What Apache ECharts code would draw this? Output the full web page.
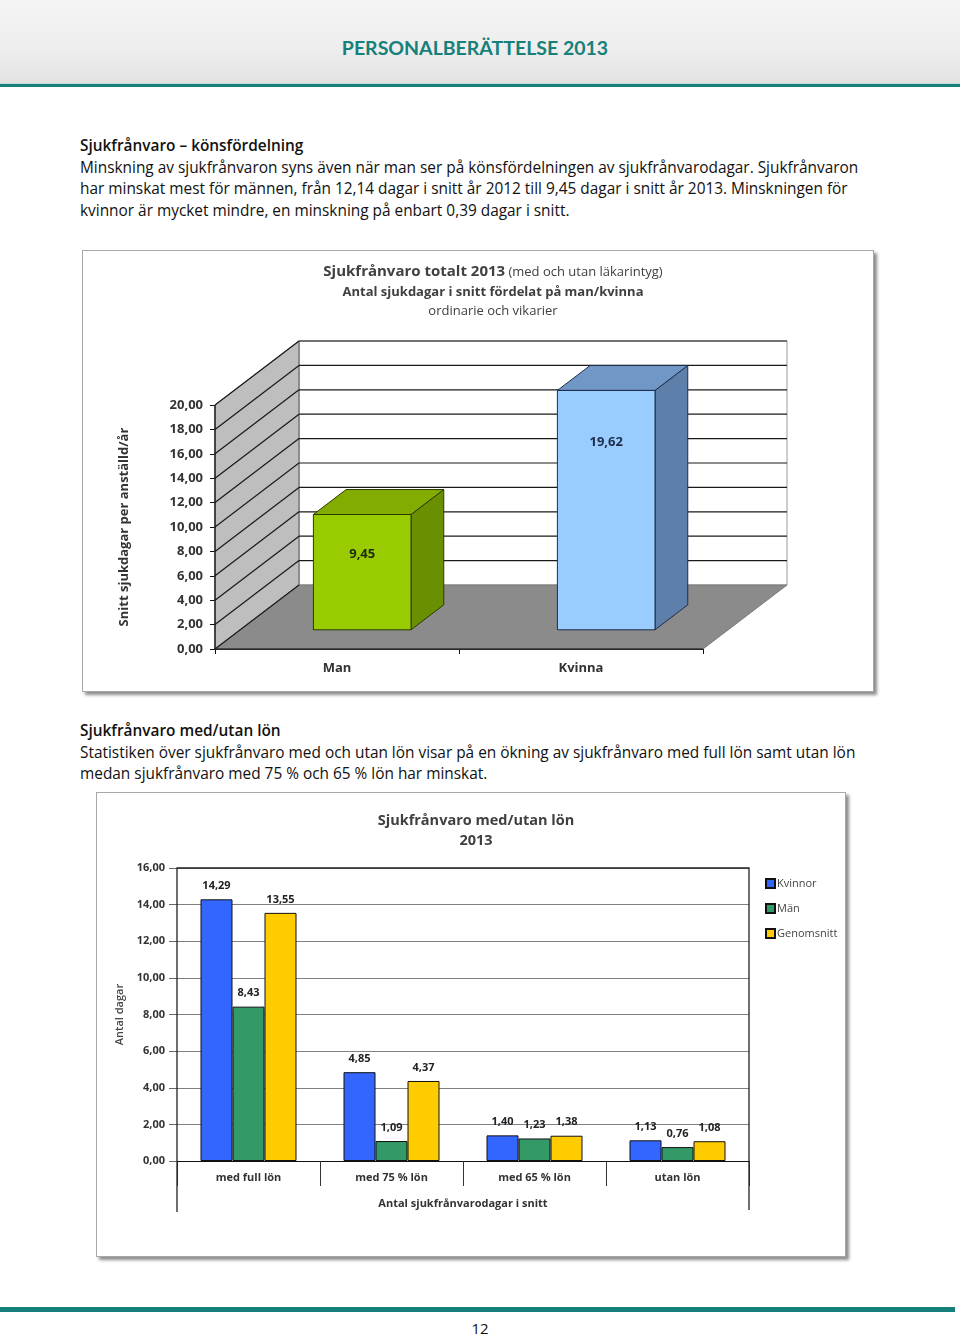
<!DOCTYPE html>
<html>
<head>
<meta charset="utf-8">
<script src="https://cdn.jsdelivr.net/npm/echarts/dist/echarts.min.js"></script>
<style>
  html, body { margin: 0; padding: 0; background: #fff; }
  #page { position: relative; width: 960px; height: 1338px; overflow: hidden; font-family: "Open Sans", Lato, sans-serif; color: #111; }
  .hdr { position: absolute; left: 0; top: 0; width: 960px; height: 84px; background: linear-gradient(180deg, #f5f5f5 0%, #ededed 60%, #e2e2e2 100%); }
  .hdr-line1 { position: absolute; left: 0; top: 83px; width: 960px; height: 1px; background: #bfdcda; }
  .hdr-line2 { position: absolute; left: 0; top: 84px; width: 960px; height: 3px; background: #1c807a; }
  .hdr-title { position: absolute; left: 0; width: 960px; top: 36px; text-align: center; font-family: Lato, sans-serif; font-weight: bold; font-size: 19.5px; color: #16807a; margin-left: -5px; }
  .para { position: absolute; left: 80px; font-size: 15.4px; line-height: 21.5px; white-space: nowrap; color: #111; }
  .para b { font-weight: 600; }
  .frame { position: absolute; background: #fff; border: 1px solid #a8a8a8; box-shadow: 3px 3px 3px rgba(0,0,0,0.45); }
  .foot { position: absolute; left: 0; top: 1307px; width: 955px; height: 5px; background: #15807b; }
  .pnum { position: absolute; left: 0; width: 960px; top: 1318px; text-align: center; font-size: 15px; color: #111; }
  #chart { position: absolute; left: 0; top: 0; width: 960px; height: 1338px; }
</style>
</head>
<body>
<div id="page">
  <div class="hdr"></div>
  <div class="hdr-line1"></div>
  <div class="hdr-line2"></div>
  <div class="hdr-title">PERSONALBERÄTTELSE 2013</div>

  <div class="para" style="top:135px;">
    <b>Sjukfrånvaro – könsfördelning</b><br>
    Minskning av sjukfrånvaron syns även när man ser på könsfördelningen av sjukfrånvarodagar. Sjukfrånvaron<br>
    har minskat mest för männen, från 12,14 dagar i snitt år 2012 till 9,45 dagar i snitt år 2013. Minskningen för<br>
    kvinnor är mycket mindre, en minskning på enbart 0,39 dagar i snitt.
  </div>

  <div class="frame" style="left:82px; top:250px; width:790px; height:440px;"></div>

  <div class="para" style="top:720px;">
    <b>Sjukfrånvaro med/utan lön</b><br>
    Statistiken över sjukfrånvaro med och utan lön visar på en ökning av sjukfrånvaro med full lön samt utan lön<br>
    medan sjukfrånvaro med 75 % och 65 % lön har minskat.
  </div>

  <div class="frame" style="left:96px; top:792px; width:748px; height:463px;"></div>

  <div class="foot"></div>
  <div class="pnum">12</div>

  <div id="chart"></div>
</div>

<script>
// ---------- DATA ----------
const genderCats = ['Man', 'Kvinna'];
const genderValues = [9.45, 19.62];
const genderYMax = 20;
const genderYStep = 2;

const payCats = ['med full lön', 'med 75 % lön', 'med 65 % lön', 'utan lön'];
const seriesNames = ['Kvinnor', 'Män', 'Genomsnitt'];
const kvinnorValues = [14.29, 4.85, 1.40, 1.13];
const manValues = [8.43, 1.09, 1.23, 0.76];
const genomsnittValues = [13.55, 4.37, 1.38, 1.08];
const payYMax = 16;
const payYStep = 2;

// ---------- STYLE ----------
const FONT = 'Open Sans';
const DEPTH_X = 84, DEPTH_Y = -64;
const barStyles3d = [
  { front: '#99cc00', top: '#82ad00', side: '#6a8f00', edge: '#2b3a00', label: '#1d2a10', labelDy: 40 },
  { front: '#99ccff', top: '#7097c6', side: '#5f7fab', edge: '#1e2c4a', label: '#1e2c4a', labelDy: 52 }
];
const payColors = ['#3366ff', '#339966', '#ffcc00'];
const fmt = v => Number(v).toFixed(2).replace('.', ',');

const chart = echarts.init(document.getElementById('chart'), null, { renderer: 'canvas' });

function renderWalls(params, api) {
  const cs = params.coordSys;
  const x0 = cs.x, x1 = cs.x + cs.width, yt = cs.y, yb = cs.y + cs.height;
  const dx = DEPTH_X, dy = DEPTH_Y;
  const children = [];
  children.push({ type: 'rect', shape: { x: x0 + dx, y: yt + dy, width: cs.width, height: cs.height },
    style: { fill: '#ffffff', stroke: '#9a9a9a', lineWidth: 1 } });
  children.push({ type: 'polygon', shape: { points: [[x0, yb], [x0, yt], [x0 + dx, yt + dy], [x0 + dx, yb + dy]] },
    style: { fill: '#bebebe', stroke: '#555', lineWidth: 1 } });
  children.push({ type: 'polygon', shape: { points: [[x0, yb], [x1, yb], [x1 + dx, yb + dy], [x0 + dx, yb + dy]] },
    style: { fill: '#8b8b8b', stroke: '#7a7a7a', lineWidth: 1 } });
  for (let v = 0; v <= genderYMax + 1e-9; v += genderYStep) {
    const y = api.coord([0, v])[1];
    children.push({ type: 'line', shape: { x1: x0, y1: y, x2: x0 + dx, y2: y + dy }, style: { stroke: '#1a1a1a', lineWidth: 1.2 } });
    if (v > 0) {
      children.push({ type: 'line', shape: { x1: x0 + dx, y1: y + dy, x2: x1 + dx, y2: y + dy }, style: { stroke: '#1a1a1a', lineWidth: 1.2 } });
    }
  }
  children.push({ type: 'line', shape: { x1: x0, y1: yt, x2: x0, y2: yb }, style: { stroke: '#111', lineWidth: 1.2 } });
  children.push({ type: 'line', shape: { x1: x0, y1: yb, x2: x1, y2: yb }, style: { stroke: '#111', lineWidth: 1.2 } });
  return { type: 'group', children };
}

function render3DBar(params, api) {
  const idx = api.value(0), val = api.value(1);
  const top = api.coord([idx, val]);
  const base = api.coord([idx, 0]);
  const band = api.size([1, 0])[0];
  const w = band * 0.4;
  const fx = DEPTH_X * 0.3, fy = DEPTH_Y * 0.3;
  const bx = DEPTH_X * 0.39, by = DEPTH_Y * 0.39;
  const x0 = top[0] - w / 2 + fx, x1 = x0 + w;
  const yT = top[1] + fy, yB = base[1] + fy;
  const c = barStyles3d[params.dataIndex];
  return { type: 'group', children: [
    { type: 'polygon', shape: { points: [[x1, yB], [x1, yT], [x1 + bx, yT + by], [x1 + bx, yB + by]] }, style: { fill: c.side, stroke: c.edge, lineWidth: 1 } },
    { type: 'polygon', shape: { points: [[x0, yT], [x1, yT], [x1 + bx, yT + by], [x0 + bx, yT + by]] }, style: { fill: c.top, stroke: c.edge, lineWidth: 1 } },
    { type: 'rect', shape: { x: x0, y: yT, width: w, height: yB - yT }, style: { fill: c.front, stroke: c.edge, lineWidth: 1 } },
    { type: 'text', x: (x0 + x1) / 2, y: yT + c.labelDy, style: { text: fmt(val), align: 'center', verticalAlign: 'middle', font: 'bold 13px "' + FONT + '"', fill: c.label } }
  ] };
}

const titleColor = '#404040';
const option = {
  animation: false,
  textStyle: { fontFamily: FONT },
  grid: [
    { left: 215, top: 405, width: 488, height: 244 },
    { left: 177, top: 868, width: 572, height: 293 }
  ],
  xAxis: [
    { gridIndex: 0, type: 'category', data: genderCats,
      axisLine: { show: true, lineStyle: { color: '#111', width: 1.2 } },
      axisTick: { show: true, length: 5, lineStyle: { color: '#111' } },
      axisLabel: { fontFamily: FONT, fontWeight: 'bold', fontSize: 13, color: '#333', margin: 13 },
      splitLine: { show: false } },
    { gridIndex: 1, type: 'category', data: payCats,
      name: 'Antal sjukfrånvarodagar i snitt', nameLocation: 'middle', nameGap: 37,
      nameTextStyle: { fontFamily: FONT, fontWeight: 'bold', fontSize: 11, color: '#333' },
      axisLine: { show: true, lineStyle: { color: '#111', width: 1.2 } },
      axisTick: { show: true, length: 25, lineStyle: { color: '#333' } },
      axisLabel: { fontFamily: FONT, fontWeight: 'bold', fontSize: 11, color: '#333', margin: 11 },
      splitLine: { show: false } }
  ],
  yAxis: [
    { gridIndex: 0, type: 'value', min: 0, max: genderYMax, interval: genderYStep,
      name: 'Snitt sjukdagar per anställd/år', nameLocation: 'middle', nameRotate: 90, nameGap: 84,
      nameTextStyle: { fontFamily: FONT, fontWeight: 'bold', fontSize: 13, color: '#333' },
      axisLine: { show: true, lineStyle: { color: '#111', width: 1.2 } },
      axisTick: { show: true, length: 5, lineStyle: { color: '#111' } },
      axisLabel: { fontFamily: FONT, fontWeight: 'bold', fontSize: 13, color: '#333', margin: 12, formatter: fmt },
      splitLine: { show: false } },
    { gridIndex: 1, type: 'value', min: 0, max: payYMax, interval: payYStep,
      name: 'Antal dagar', nameLocation: 'middle', nameRotate: 90, nameGap: 52,
      nameTextStyle: { fontFamily: FONT, fontWeight: 600, fontSize: 11, color: '#444' },
      axisLine: { show: false },
      axisTick: { show: true, length: 8, lineStyle: { color: '#666' } },
      axisLabel: { fontFamily: FONT, fontWeight: 'bold', fontSize: 11, color: '#333', margin: 12, formatter: fmt },
      splitLine: { show: true, lineStyle: { color: '#808080', width: 1 } } }
  ],
  legend: {
    data: seriesNames, orient: 'vertical', left: 760, top: 871,
    itemWidth: 9, itemHeight: 9, itemGap: 10, icon: 'rect',
    textStyle: { fontFamily: FONT, fontSize: 11, color: '#444', padding: [0, 0, 0, -3], lineHeight: 15 }
  },
  graphic: [
    { type: 'text', x: 493, y: 272, style: { text: '{a|Sjukfrånvaro totalt 2013} {b|(med och utan läkarintyg)}', align: 'center', verticalAlign: 'middle',
        rich: { a: { fontFamily: FONT, fontSize: 15, fontWeight: 'bold', fill: titleColor }, b: { fontFamily: FONT, fontSize: 13, fill: titleColor } } } },
    { type: 'text', x: 493, y: 292, style: { text: 'Antal sjukdagar i snitt fördelat på man/kvinna', align: 'center', verticalAlign: 'middle', font: 'bold 13px "' + FONT + '"', fill: titleColor } },
    { type: 'text', x: 493, y: 311, style: { text: 'ordinarie och vikarier', align: 'center', verticalAlign: 'middle', font: '13px "' + FONT + '"', fill: titleColor } },
    { type: 'text', x: 476, y: 821, style: { text: 'Sjukfrånvaro med/utan lön', align: 'center', verticalAlign: 'middle', font: 'bold 14.5px "' + FONT + '"', fill: titleColor } },
    { type: 'text', x: 476, y: 841, style: { text: '2013', align: 'center', verticalAlign: 'middle', font: 'bold 14.5px "' + FONT + '"', fill: titleColor } },
    { type: 'polyline', z: 10, shape: { points: [[177, 1212], [177, 868], [749, 868], [749, 1210]] }, style: { stroke: '#222', lineWidth: 1.3, fill: null } }
  ],
  series: [
    { type: 'custom', name: 'walls', xAxisIndex: 0, yAxisIndex: 0, z: 1, silent: true, renderItem: renderWalls, data: [[0, 0]] },
    { type: 'custom', name: 'bars3d', xAxisIndex: 0, yAxisIndex: 0, z: 3, renderItem: render3DBar,
      data: genderValues.map((v, i) => [i, v]) },
    ...[kvinnorValues, manValues, genomsnittValues].map((vals, i) => ({
      type: 'bar', name: seriesNames[i], xAxisIndex: 1, yAxisIndex: 1,
      data: vals, barWidth: 32, barGap: '0%',
      itemStyle: { color: payColors[i], borderColor: '#111', borderWidth: 1 },
      label: { show: true, position: 'top', distance: 8, formatter: p => fmt(p.value),
        fontFamily: FONT, fontWeight: 'bold', fontSize: 11, color: '#222' }
    }))
  ]
};
chart.setOption(option);
</script>
</body>
</html>
